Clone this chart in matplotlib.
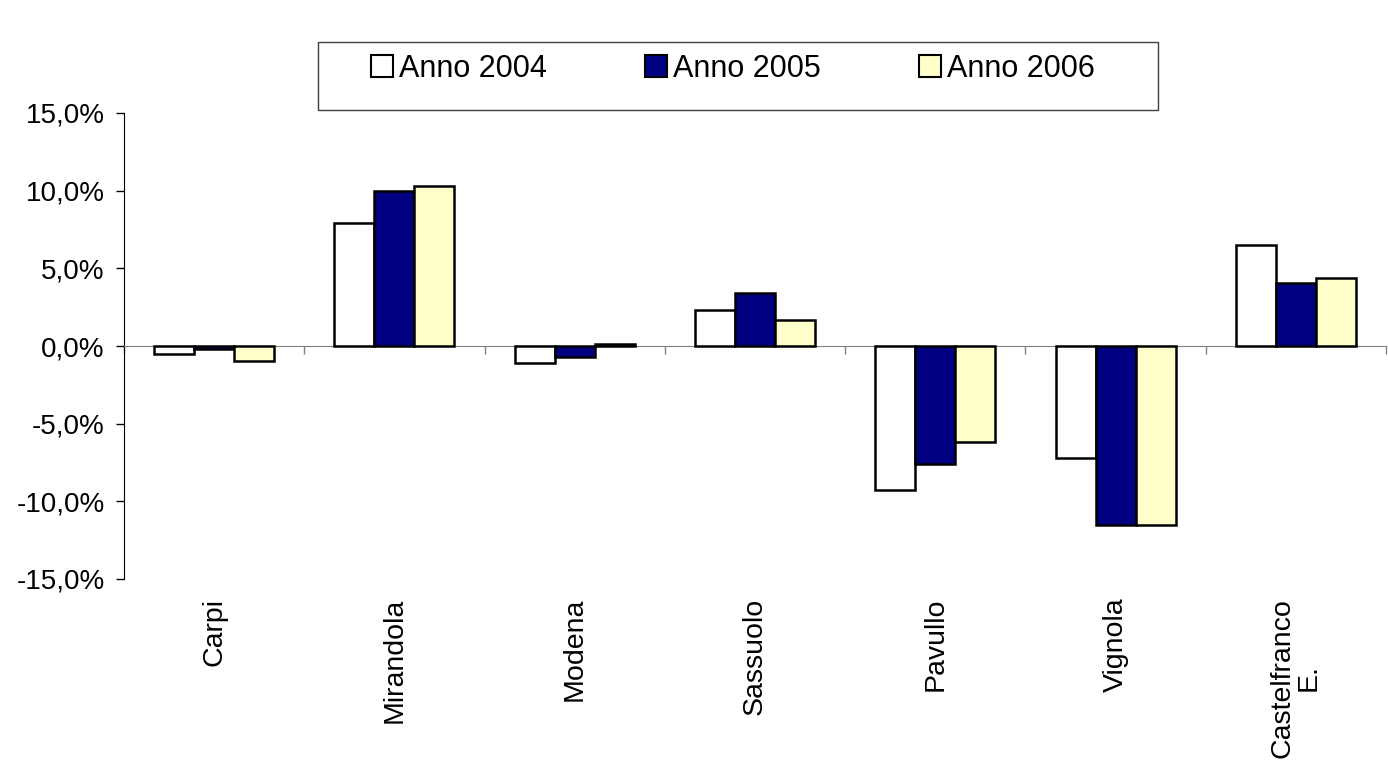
import numpy as np
import matplotlib.pyplot as plt
from matplotlib.ticker import FuncFormatter
from matplotlib.patches import Rectangle
import matplotlib.transforms as mtransforms

plt.rcParams['font.family'] = ['Liberation Sans', 'DejaVu Sans']

# dati
comuni = ['Carpi', 'Mirandola', 'Modena', 'Sassuolo', 'Pavullo', 'Vignola', 'Castelfranco\nE.']
anno_2004 = [-0.5, 7.9, -1.1, 2.3, -9.3, -7.2, 6.5]
anno_2005 = [-0.2, 10.0, -0.7, 3.4, -7.6, -11.5, 4.05]
anno_2006 = [-0.95, 10.3, 0.1, 1.7, -6.2, -11.5, 4.4]
serie = ['Anno 2004', 'Anno 2005', 'Anno 2006']
colori = ['white', '#000080', '#FFFFCC']

fig = plt.figure(figsize=(13.88, 7.63), dpi=100)
ax = fig.add_axes([124/1388, 1-579/763, 1262/1388, 466/763])

x = np.arange(len(comuni))
w = 0.222
for i, (vals, lab, col) in enumerate(zip([anno_2004, anno_2005, anno_2006], serie, colori)):
    ax.bar(x + (i - 1) * w, vals, w, color=col, edgecolor='black', linewidth=1.8, label=lab, zorder=3)

ax.set_xlim(-0.5, len(comuni) - 0.5)
ax.set_ylim(-15, 15)
ax.set_yticks(np.arange(-15, 16, 5))
ax.yaxis.set_major_formatter(FuncFormatter(lambda v, p: ('%.1f%%' % v).replace('.', ',')))
ax.tick_params(axis='y', labelsize=20, length=6, width=1, direction='out', pad=8)

ax.spines['top'].set_visible(False)
ax.spines['right'].set_visible(False)
ax.spines['left'].set_color('black')
ax.spines['bottom'].set_position(('data', 0))
ax.spines['bottom'].set_color('#808080')
ax.set_xticks(np.arange(len(comuni) + 1) - 0.5)
ax.set_xticklabels([])
ax.tick_params(axis='x', length=6, width=1, color='#808080', direction='out')

trans = mtransforms.blended_transform_factory(ax.transData, ax.transAxes)
for xi, nome in zip(x, comuni):
    ax.text(xi, -0.04, nome, transform=trans, rotation=90, ha='center', va='top',
            fontsize=20.5, multialignment='center', linespacing=1.0)

# riquadro legenda
fig.patches.append(Rectangle((318/1388, 1-110/763), 840/1388, 68/763, transform=fig.transFigure,
                             facecolor='white', edgecolor='#404040', linewidth=1, zorder=0))
leg = fig.legend(loc='center', ncol=3, bbox_to_anchor=(733/1388, 1-69/763),
                 fontsize=22, frameon=False, borderpad=0, columnspacing=3.2,
                 handlelength=0.72, handleheight=0.72, handletextpad=0.2,
                 borderaxespad=0)
for h in leg.legend_handles:
    h.set_linewidth(1.5)

plt.savefig('out.png', dpi=100)
